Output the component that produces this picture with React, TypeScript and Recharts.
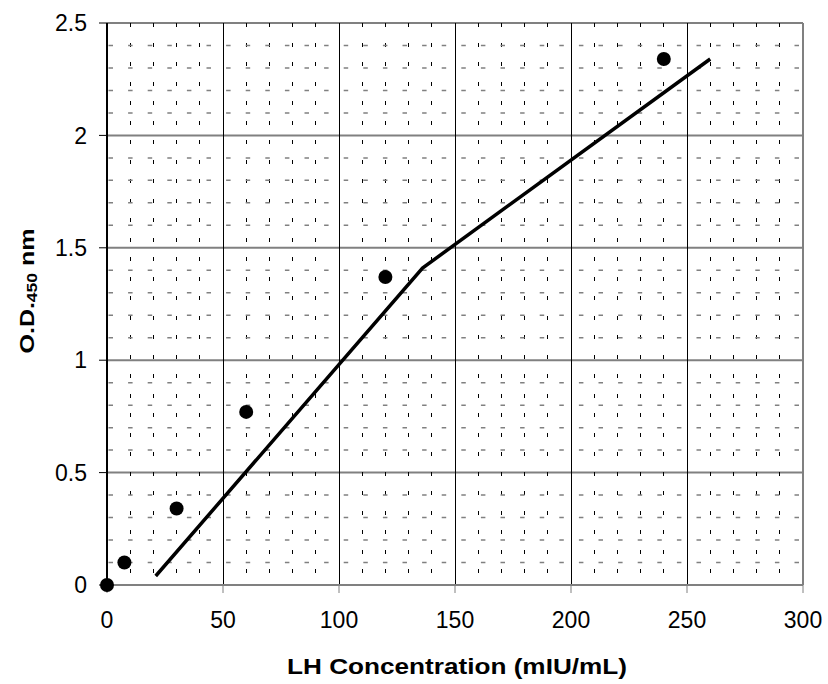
import React from 'react';
import {
  ComposedChart,
  XAxis,
  YAxis,
  CartesianGrid,
  Line,
  Scatter,
  ReferenceLine,
  Label,
} from 'recharts';

// Measured standards (LH concentration vs O.D. 450 nm)
const concentrations = [0, 7.5, 30, 60, 120, 240];
const odValues = [0, 0.1, 0.34, 0.77, 1.37, 2.34];

// Fitted curve points
const fitX = [21, 136, 260];
const fitY = [0.04, 1.41, 2.34];

// Axis ticks
const xTicks = [0, 50, 100, 150, 200, 250, 300];
const yTicks = [0, 0.5, 1, 1.5, 2, 2.5];

// Minor gridline positions
const xMinor = [10, 20, 30, 40, 60, 70, 80, 90, 110, 120, 130, 140, 160, 170, 180, 190, 210, 220, 230, 240, 260, 270, 280, 290];
const yMinor = [0.1, 0.2, 0.3, 0.4, 0.6, 0.7, 0.8, 0.9, 1.1, 1.2, 1.3, 1.4, 1.6, 1.7, 1.8, 1.9, 2.1, 2.2, 2.3, 2.4];

const points = concentrations.map((x, i) => ({ x, y: odValues[i] }));
const fit = fitX.map((x, i) => ({ x, y: fitY[i] }));

const FONT = '"Liberation Sans", Arial, Helvetica, sans-serif';

const XTitle = (props: any) => {
  const vb = props.viewBox || {};
  return (
    <text
      x={vb.x + vb.width / 2 + 2}
      y={vb.y + 89}
      textAnchor="middle"
      fontFamily={FONT}
      fontWeight="bold"
      fontSize={22}
      fill="#000"
      textLength={340}
      lengthAdjust="spacingAndGlyphs"
    >
      LH Concentration (mIU/mL)
    </text>
  );
};

const YTitle = (props: any) => {
  const vb = props.viewBox || {};
  const cx = 34;
  const cy = vb.y + vb.height / 2 - 13;
  return (
    <text
      x={cx}
      y={cy}
      transform={`rotate(-90, ${cx}, ${cy})`}
      textAnchor="middle"
      fontFamily={FONT}
      fontWeight="bold"
      fontSize={20}
      fill="#000"
      textLength={125}
      lengthAdjust="spacingAndGlyphs"
    >
      <tspan>O.D.</tspan>
      <tspan fontSize={14} dy={3}>450</tspan>
      <tspan dy={-3}> nm</tspan>
    </text>
  );
};

const Dot = (props: any) => {
  const { cx, cy } = props;
  if (cx == null || cy == null) return null;
  return <circle cx={cx} cy={cy} r={7} fill="#000" />;
};

export default function App() {
  return (
    <div style={{ position: 'absolute', left: 0, top: 0, width: 828, height: 684, background: '#fff' }}>
      <ComposedChart
        width={828}
        height={684}
        margin={{ top: 23, right: 25, bottom: 0, left: 0 }}
      >
        {xMinor.map((v) => (
          <ReferenceLine
            key={'xm' + v}
            segment={[{ x: v, y: 2.5 }, { x: v, y: 0 }]}
            stroke="#000"
            strokeWidth={1}
            strokeDasharray="4 15.5"
            shapeRendering="crispEdges"
          />
        ))}
        {yMinor.map((v) => (
          <ReferenceLine
            key={'ym' + v}
            segment={[{ x: 0, y: v }, { x: 300, y: v }]}
            stroke="#808080"
            strokeWidth={1.5}
            strokeDasharray="4.5 15.1"
            strokeDashoffset={-1.5}
          />
        ))}
        <CartesianGrid vertical={false} stroke="#808080" strokeWidth={2} />
        {xTicks.slice(1, -1).map((v) => (
          <ReferenceLine
            key={'xM' + v}
            x={v}
            stroke="#000"
            strokeWidth={1}
            shapeRendering="crispEdges"
          />
        ))}
        <ReferenceLine x={300} stroke="#808080" strokeWidth={2} />
        <XAxis
          type="number"
          dataKey="x"
          domain={[0, 300]}
          ticks={xTicks}
          interval={0}
          height={99}
          tickSize={8}
          tickMargin={19}
          axisLine={{ stroke: '#808080', strokeWidth: 2 }}
          tickLine={{ stroke: '#808080' }}
          tick={{ fontSize: 23, fill: '#000', fontFamily: FONT }}
        >
          <Label content={<XTitle />} />
        </XAxis>
        <YAxis
          type="number"
          dataKey="y"
          domain={[0, 2.5]}
          ticks={yTicks}
          interval={0}
          width={107}
          tickSize={8}
          tickMargin={12}
          axisLine={{ stroke: '#000', strokeWidth: 2 }}
          tickLine={{ stroke: '#000' }}
          tick={{ fontSize: 23, fill: '#000', fontFamily: FONT }}
        >
          <Label content={<YTitle />} />
        </YAxis>
        <Line
          data={fit}
          dataKey="y"
          type="linear"
          stroke="#000"
          strokeWidth={3.5}
          dot={false}
          activeDot={false}
          isAnimationActive={false}
        />
        <Scatter
          data={points}
          dataKey="y"
          shape={<Dot />}
          isAnimationActive={false}
        />
      </ComposedChart>
    </div>
  );
}
